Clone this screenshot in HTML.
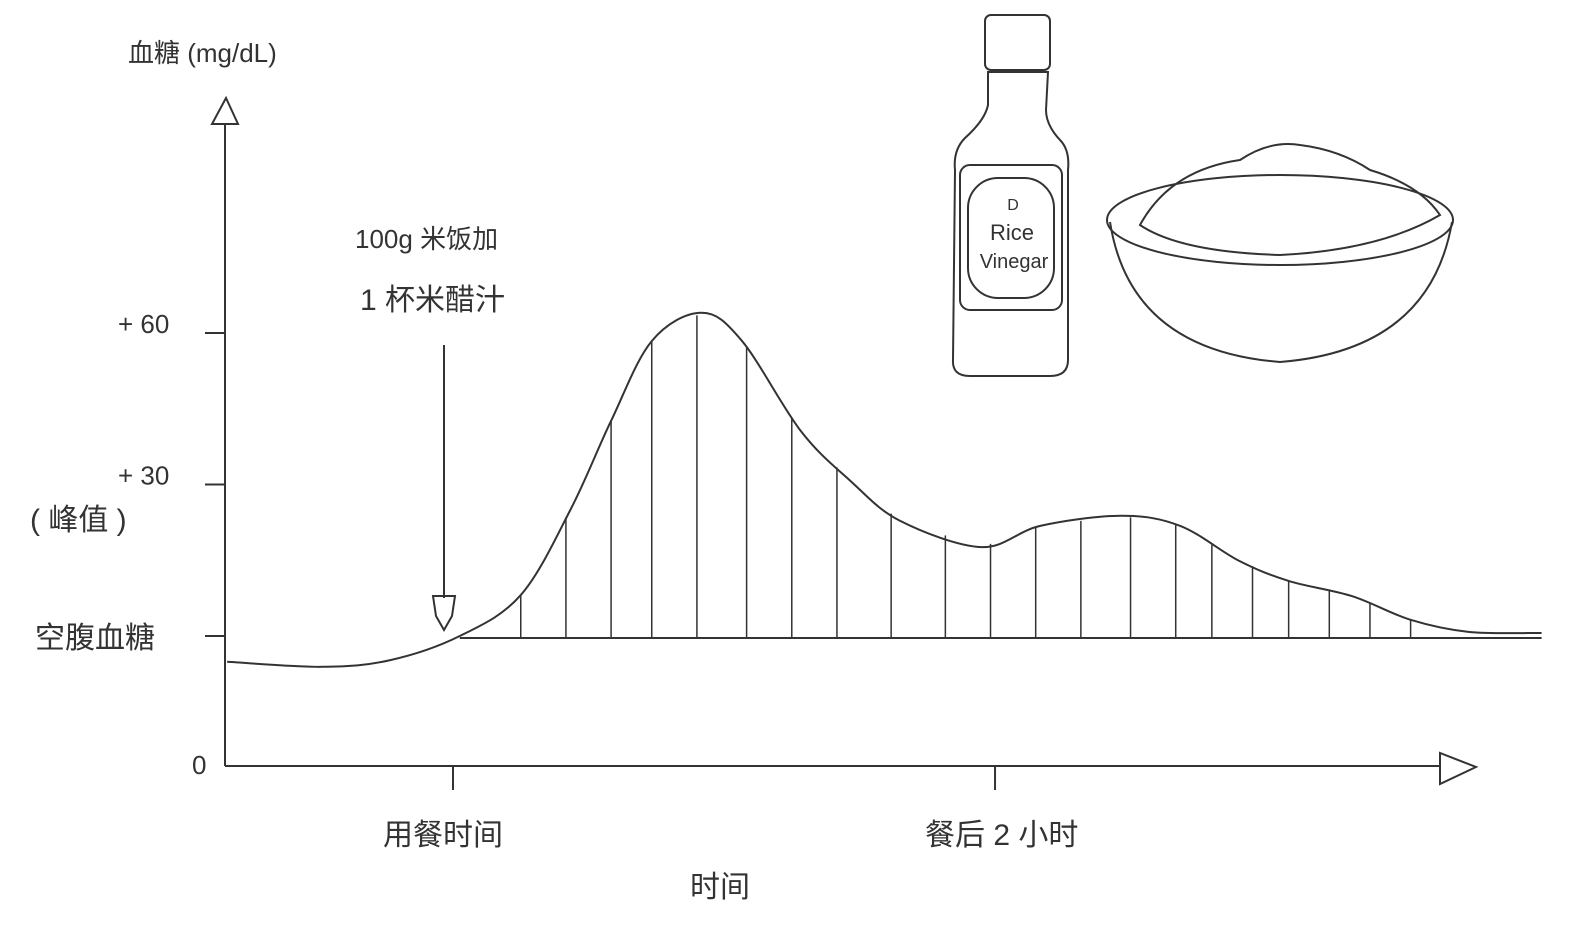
<!DOCTYPE html>
<html><head><meta charset="utf-8"><style>
html,body{margin:0;padding:0;background:#fff;}
svg{display:block;}
text{font-family:"Liberation Sans","Noto Sans CJK SC",sans-serif;fill:#333;}
</style></head><body>
<svg id="chart" width="1594" height="944" viewBox="0 0 1594 944">
<g id="axes" stroke="#333" stroke-width="2" fill="none">
 <line x1="225" y1="124" x2="225" y2="766"/>
 <polygon points="212,124 238,124 226,98" fill="#fff"/>
 <line x1="225" y1="766" x2="1440" y2="766"/>
 <polygon points="1440,753 1440,784 1476,767" fill="#fff"/>
</g>
<text x="128" y="62" font-size="26">血糖 (mg/dL)</text>
<text x="690" y="897" font-size="30">时间</text>
<text x="355" y="248" font-size="26">100g 米饭加</text>
<text x="360" y="310" font-size="30">1 杯米醋汁</text>
<g stroke="#333" stroke-width="2" fill="none">
 <line x1="444" y1="345" x2="444" y2="598"/>
 <path d="M433,596 L455,596 L452,616 L444,630 L436,616 Z"/>
</g>
<text x="30" y="530" font-size="30">( 峰值 )</text>
<g id="yticks"></g>
<g id="xticks"></g>
<g id="series"></g>
<g id="illustration" stroke="#333" stroke-width="2" fill="none">
 <g>
  <rect x="985" y="15" width="65" height="55" rx="6"/>
  <path d="M988,72 L1048,72 L1046,110 Q1046,125 1060,140 Q1070,150 1068,170 L1068,360 Q1068,376 1050,376 L970,376 Q952,376 953,360 L955,170 Q953,150 965,138 Q985,120 988,105 Z"/>
  <rect x="960" y="165" width="102" height="145" rx="10"/>
  <rect x="968" y="178" width="86" height="120" rx="30"/>
  <text x="1013" y="210" font-size="16" stroke="none" text-anchor="middle">D</text>
  <text x="1012" y="240" font-size="22" stroke="none" text-anchor="middle">Rice</text>
  <text x="1014" y="268" font-size="20" stroke="none" text-anchor="middle">Vinegar</text>
 </g>
 <g>
  <ellipse cx="1280" cy="220" rx="173" ry="45"/>
  <path d="M1110,222 Q1130,350 1280,362 Q1430,350 1452,222"/>
  <path d="M1140,225 Q1170,170 1240,160 Q1270,140 1300,145 Q1340,150 1370,170 Q1420,185 1440,215 Q1380,250 1280,255 Q1180,252 1140,225 Z"/>
 </g>
</g>
</svg>
<script>
const times=[-50,-29,-14,1.5,15,26,35,44,55,64,77,88,99,117,130,148,161,174,185,199,212,225,241];
const glucose=[-5.1,-6.1,-4.8,0,8.1,25,42.6,58.4,64,58.4,40.6,30.7,22.8,17.6,21.8,23.8,21.8,14.9,10.9,7.9,3.2,0.8,0.6];
const hatchTimes=[15,25,35,44,54,65,75,85,97,109,119,129,139,150,160,168,177,185,194,203,212];
const yTickValues=[-25.7,0,30,60];
const yTickLabels=["0","空腹血糖","+ 30","+ 60"];
const xTickValues=[0,120];
const xTickLabels=["用餐时间","餐后 2 小时"];
const baselineStart=1.5, baselineEnd=241;

const NS="http://www.w3.org/2000/svg";
const xs=t=>453+t*4.517;
const ys=d=>636-d*5.05;
function mk(tag,attrs,parent){const e=document.createElementNS(NS,tag);for(const k in attrs)e.setAttribute(k,attrs[k]);parent.appendChild(e);return e;}
function interp(t){for(let i=0;i<times.length-1;i++){if(t>=times[i]&&t<=times[i+1]){const f=(t-times[i])/(times[i+1]-times[i]);return glucose[i]+f*(glucose[i+1]-glucose[i]);}}return glucose[glucose.length-1];}

const yt=document.getElementById('yticks');
yTickValues.forEach((v,i)=>{
 const y=ys(v);
 if(i>0){const l=mk('line',{x1:205,x2:225,y1:y,y2:y,stroke:'#333','stroke-width':2},yt);
 
 }
 const isCjk=/[^\x00-\x7f]/.test(yTickLabels[i]);
 const tx=mk('text',{x:i===0?192:(isCjk?35:118),y:i===0?y+8:y+(isCjk?12:0),'font-size':isCjk?30:26},yt);
 tx.textContent=yTickLabels[i];
 
 
});
const xt=document.getElementById('xticks');
xTickValues.forEach((v,i)=>{
 const x=xs(v);
 const l=mk('line',{x1:x,x2:x,y1:766,y2:790,stroke:'#333','stroke-width':2},xt);
 
 
 const tx=mk('text',{x:x-70,y:845,'font-size':30},xt);
 tx.textContent=xTickLabels[i];
 
 
});

const sg=document.getElementById('series');
const pts=times.map((t,i)=>[xs(t),ys(glucose[i])]);
let d=`M${pts[0][0]},${pts[0][1]}`;
for(let i=0;i<pts.length-1;i++){
 const p0=pts[Math.max(0,i-1)],p1=pts[i],p2=pts[i+1],p3=pts[Math.min(pts.length-1,i+2)];
 const c1=[p1[0]+(p2[0]-p0[0])/6,p1[1]+(p2[1]-p0[1])/6];
 const c2=[p2[0]-(p3[0]-p1[0])/6,p2[1]-(p3[1]-p1[1])/6];
 d+=` C${c1[0]},${c1[1]} ${c2[0]},${c2[1]} ${p2[0]},${p2[1]}`;
}
const curve=mk('path',{d:d,fill:'none',stroke:'#333','stroke-width':2},sg);


const base=mk('line',{x1:xs(baselineStart),x2:xs(baselineEnd),y1:ys(0)+2,y2:ys(0)+2,stroke:'#333','stroke-width':2},sg);


hatchTimes.forEach(t=>{
 const x=xs(t);
 const h=mk('line',{x1:x,x2:x,y1:ys(interp(t)),y2:ys(0)+2,stroke:'#333','stroke-width':1.5},sg);
 
 
});
</script>
</body></html>
